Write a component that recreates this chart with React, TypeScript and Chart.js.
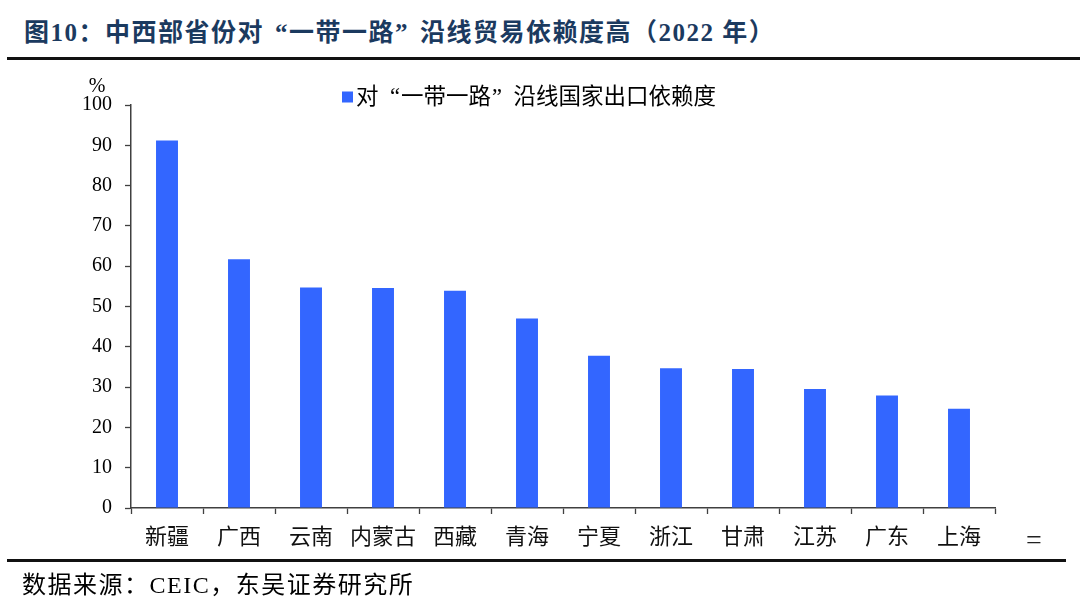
import React, { useEffect, useRef } from "react";
import { Chart, registerables } from "chart.js";

Chart.register(...registerables);

const titleText = "图10：中西部省份对“一带一路”沿线贸易依赖度高（2022 年）";
const sourceText = "数据来源：CEIC，东吴证券研究所";
const seriesLabel = "对“一带一路”沿线国家出口依赖度";
const unitLabel = "%";
const categories = ["新疆", "广西", "云南", "内蒙古", "西藏", "青海", "宁夏", "浙江", "甘肃", "江苏", "广东", "上海"];
const exportDependence = [91.2, 61.7, 54.7, 54.6, 53.9, 47.0, 37.8, 34.7, 34.5, 29.5, 27.9, 24.6];
const yMin = 0;
const yMax = 100;
const yStep = 10;

const SERIF = '"Liberation Serif", "Noto Sans CJK SC", serif';
const BAR_COLOR = "#3366FF";
const AXIS_COLOR = "#404040";

// Draw text where the curly quotes take a full-width cell (as in Song-style CJK fonts)
function drawCjkText(ctx: CanvasRenderingContext2D, text: string, x: number, y: number, size: number) {
  let cx = x;
  for (const ch of text) {
    const w = ctx.measureText(ch).width;
    if (ch === "“") {
      ctx.fillText(ch, cx + size - w - 1, y);
      cx += size;
    } else if (ch === "”") {
      ctx.fillText(ch, cx + 1, y);
      cx += size;
    } else {
      ctx.fillText(ch, cx, y);
      cx += w;
    }
  }
}

const legendPlugin = {
  id: "customLegend",
  afterDraw(chart: any) {
    const ds = chart.data.datasets[0];
    const area = chart.chartArea;
    const ctx = chart.ctx;
    const cy = area.top - 8;
    const bx = area.left + 211;
    const size = 22.5;
    ctx.save();
    ctx.fillStyle = ds.backgroundColor;
    ctx.fillRect(bx, cy - 5.5, 11, 11);
    ctx.fillStyle = "#000";
    ctx.font = `${size}px ${SERIF}`;
    ctx.textBaseline = "middle";
    ctx.textAlign = "left";
    drawCjkText(ctx, ds.label, bx + 14, cy + 1, size);
    ctx.restore();
  },
};

function CjkQuoted({ text }: { text: string }) {
  const parts: React.ReactNode[] = [];
  let buf = "";
  let k = 0;
  for (const ch of text) {
    if (ch === "“" || ch === "”") {
      if (buf) parts.push(buf);
      buf = "";
      parts.push(
        <span
          key={k++}
          style={{ display: "inline-block", width: "1em", textAlign: ch === "“" ? "right" : "left" }}
        >
          {ch}
        </span>
      );
    } else {
      buf += ch;
    }
  }
  if (buf) parts.push(buf);
  return <>{parts}</>;
}

export default function App() {
  const canvasRef = useRef<HTMLCanvasElement | null>(null);

  useEffect(() => {
    if (!canvasRef.current) return;
    const chart = new Chart(canvasRef.current, {
      type: "bar",
      data: {
        labels: categories,
        datasets: [
          {
            label: seriesLabel,
            data: exportDependence,
            backgroundColor: BAR_COLOR,
            borderWidth: 0,
            barPercentage: 0.305,
            categoryPercentage: 1,
          },
        ],
      },
      options: {
        responsive: false,
        animation: false,
        devicePixelRatio: 1,
        layout: { padding: { left: 67, right: 85, top: 105, bottom: 0 } },
        plugins: {
          legend: { display: false },
          tooltip: { enabled: false },
          title: { display: false },
        },
        scales: {
          x: {
            type: "category",
            offset: true,
            grid: {
              offset: true,
              drawOnChartArea: false,
              drawTicks: true,
              tickLength: 6,
              tickColor: AXIS_COLOR,
              tickWidth: 1.3,
            },
            border: { display: true, color: AXIS_COLOR, width: 1.5 },
            ticks: {
              color: "#111",
              font: { family: SERIF, size: 22 },
              padding: 11,
              maxRotation: 0,
              autoSkip: false,
            },
            afterFit: (scale: any) => {
              scale.height = 107;
            },
          },
          y: {
            min: yMin,
            max: yMax,
            grid: {
              drawOnChartArea: false,
              drawTicks: true,
              tickLength: 6,
              tickColor: AXIS_COLOR,
              tickWidth: 1.3,
            },
            border: { display: true, color: AXIS_COLOR, width: 1.5 },
            ticks: {
              stepSize: yStep,
              color: "#000",
              font: { family: SERIF, size: 20 },
              padding: 13,
            },
            afterFit: (scale: any) => {
              scale.width = 64;
            },
          },
        },
      },
      plugins: [legendPlugin],
    });
    return () => chart.destroy();
  }, []);

  return (
    <div
      style={{
        position: "fixed",
        left: 0,
        top: 0,
        width: 1080,
        height: 615,
        background: "#fff",
        overflow: "hidden",
        fontFamily: SERIF,
      }}
    >
      <div
        style={{
          position: "absolute",
          left: 24,
          top: 17,
          fontSize: 25,
          fontWeight: "bold",
          color: "#1B3A5F",
          letterSpacing: 1.5,
          whiteSpace: "nowrap",
          lineHeight: "32px",
        }}
      >
        <CjkQuoted text={titleText} />
      </div>
      <div style={{ position: "absolute", left: 7, top: 57, width: 1073, height: 3, background: "#111" }} />
      <canvas
        ref={canvasRef}
        width={1080}
        height={615}
        style={{ position: "absolute", left: 0, top: 0, width: 1080, height: 615 }}
      />
      <div
        style={{
          position: "absolute",
          left: 87,
          top: 73,
          width: 20,
          textAlign: "center",
          fontSize: 20,
          lineHeight: "24px",
          color: "#000",
        }}
      >
        {unitLabel}
      </div>
      <div
        style={{
          position: "absolute",
          left: 1026,
          top: 524,
          fontSize: 28,
          lineHeight: "32px",
          color: "#222",
        }}
      >
        =
      </div>
      <div style={{ position: "absolute", left: 7, top: 559, width: 1059, height: 3, background: "#111" }} />
      <div
        style={{
          position: "absolute",
          left: 22,
          top: 569,
          fontSize: 24,
          letterSpacing: 1.5,
          lineHeight: "32px",
          color: "#000",
          whiteSpace: "nowrap",
        }}
      >
        {sourceText}
      </div>
    </div>
  );
}
